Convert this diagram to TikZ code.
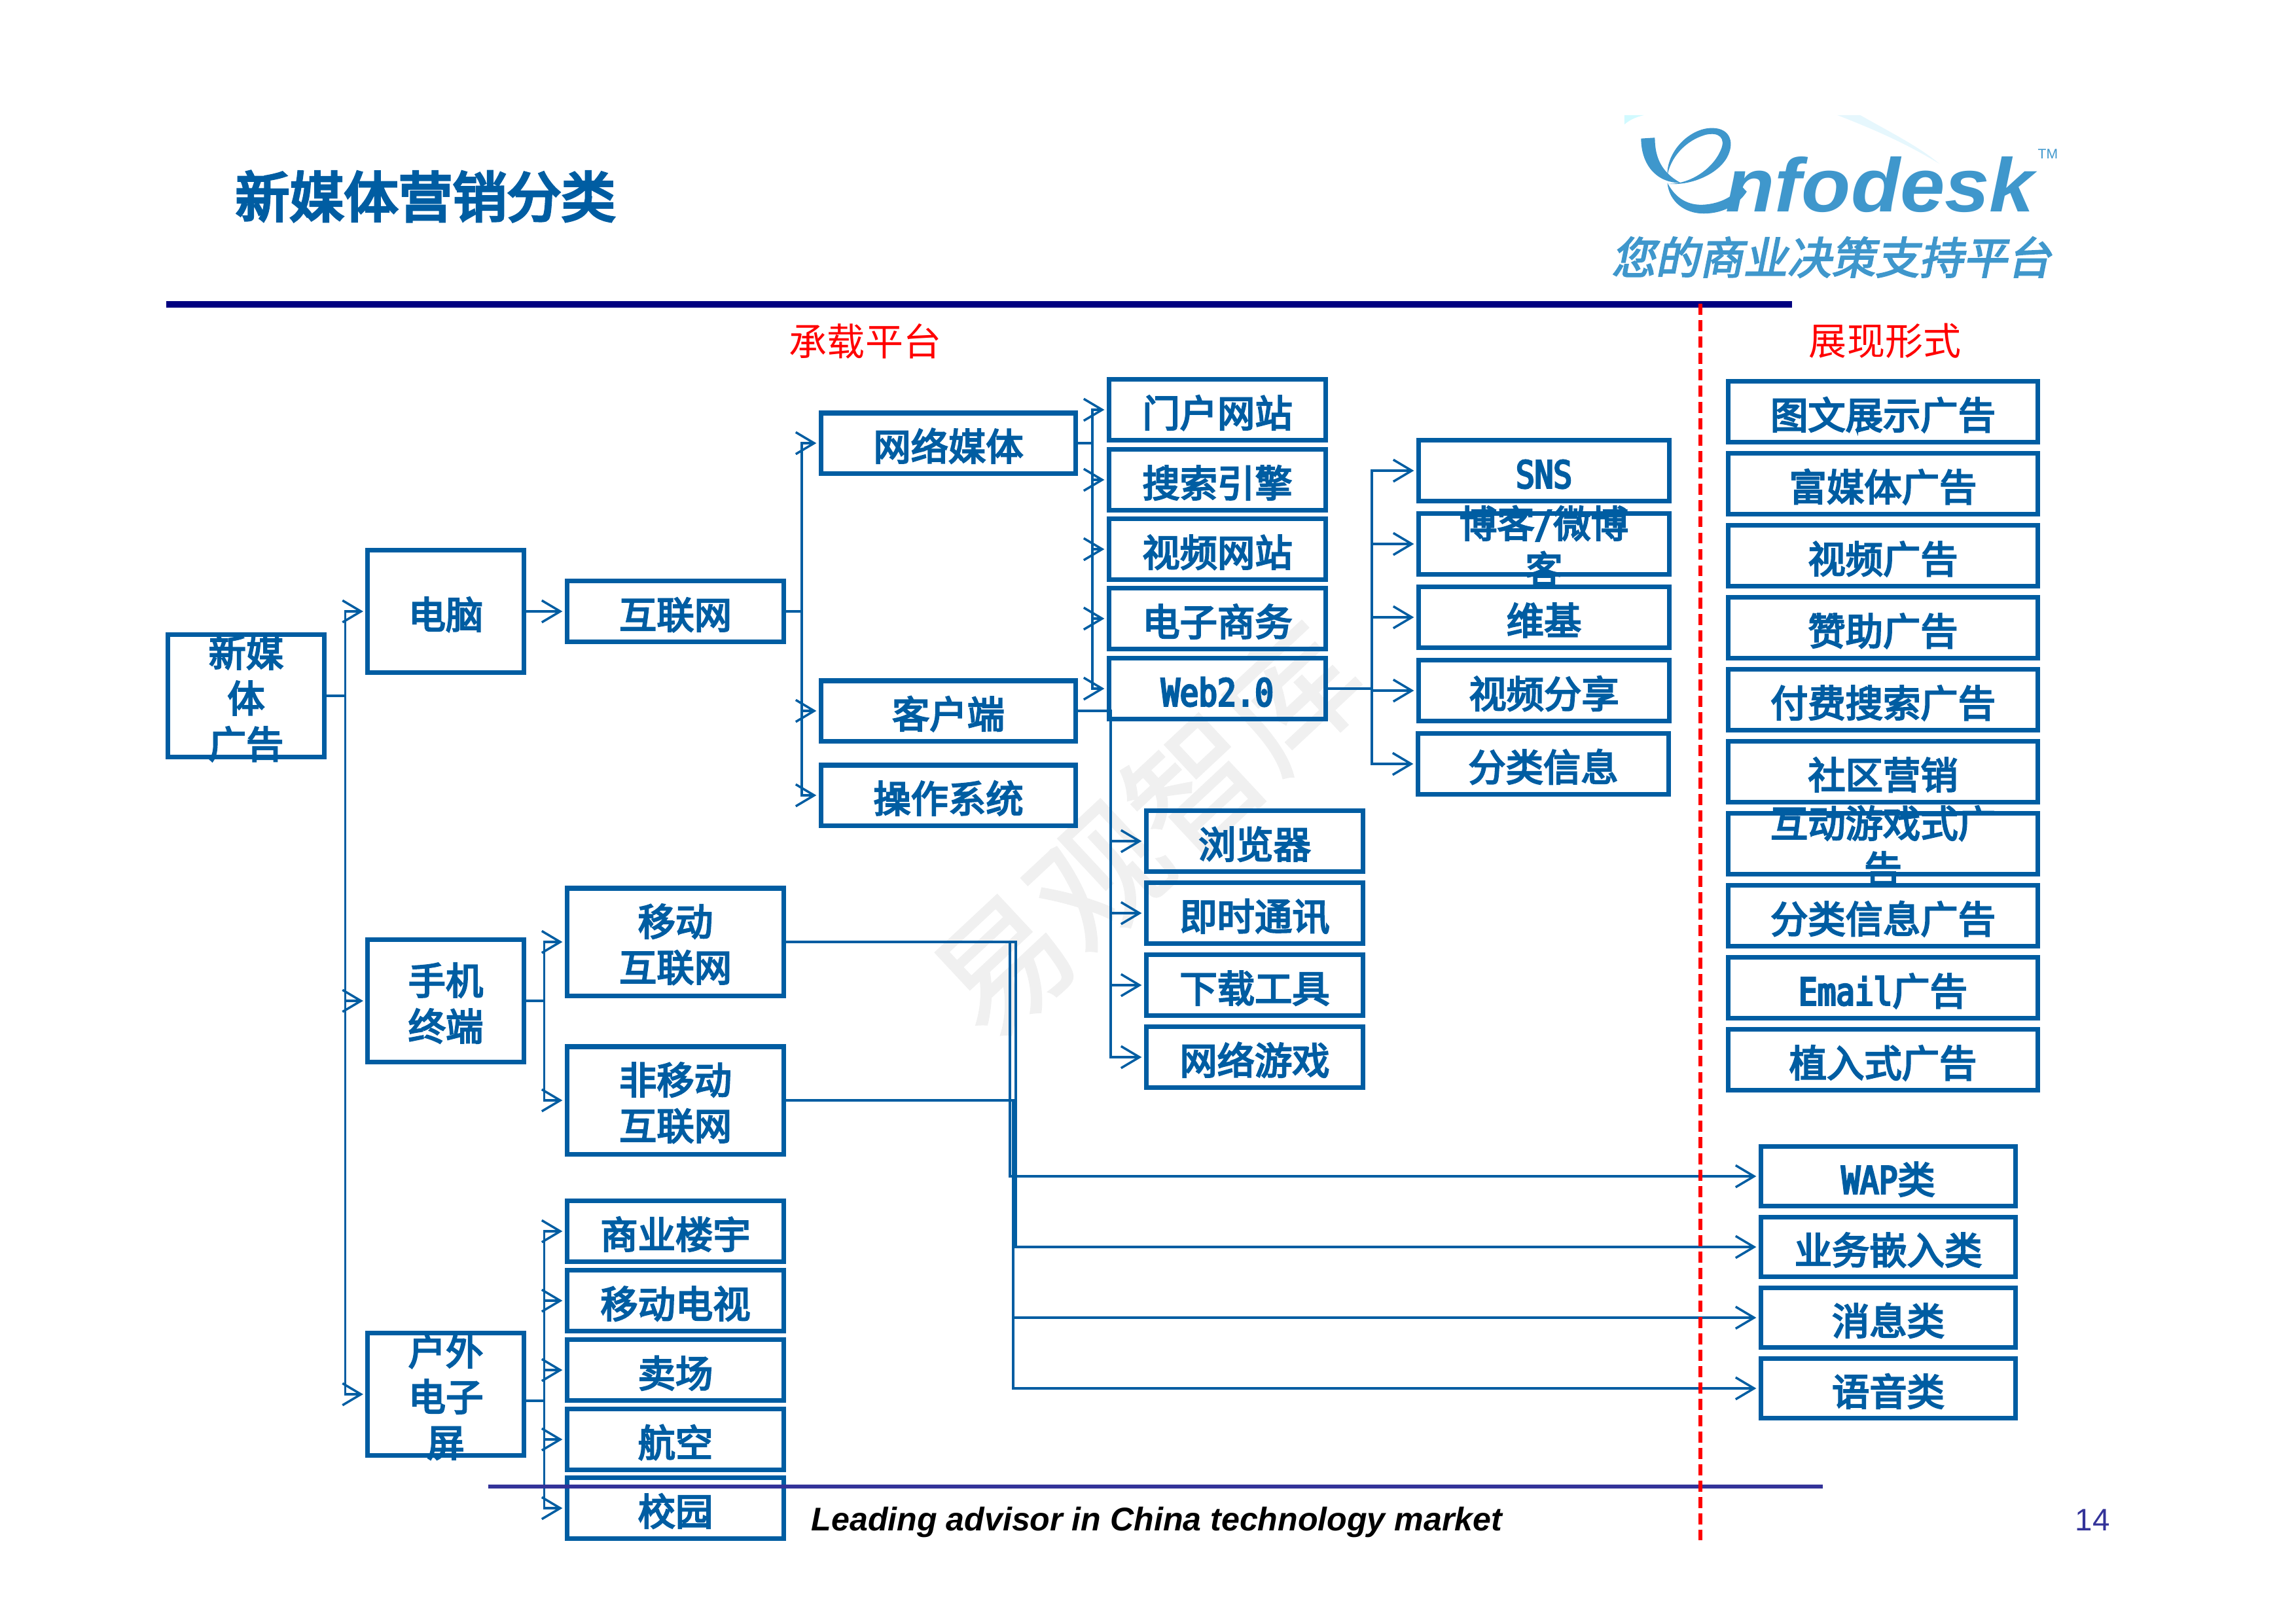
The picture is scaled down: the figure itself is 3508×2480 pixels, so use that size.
\documentclass[tikz,border=0pt]{standalone}
\usepackage{fontspec}
\usetikzlibrary{arrows.meta}
\setmainfont{Liberation Sans}
\newfontfamily\cjk{Noto Sans CJK SC}
\newfontfamily\cjkmark[FakeBold=1.5]{Noto Sans CJK SC}
\newfontfamily\cjkbold[FakeBold=4]{Noto Sans CJK SC}
\newfontfamily\cjkwide[FakeBold=5]{Noto Sans CJK SC}
\newfontfamily\slantcjk[FakeSlant=0.2,FakeBold=3]{Noto Sans CJK SC}
\newfontfamily\halfw[FakeStretch=0.83,FakeBold=5]{DejaVu Sans Mono}
\newfontfamily\logofont[FakeStretch=1.06]{Liberation Sans}
\definecolor{boxblue}{HTML}{005DA2}
\definecolor{logoblue}{HTML}{3F97CC}
\definecolor{barnavy}{HTML}{000080}
\definecolor{footpurple}{HTML}{333399}
% keeps a text of several lines from growing its box
\newcommand{\stacked}[1]{\raisebox{4.3pt}{\vbox to 0pt{\vss\hbox{\begin{tabular}{@{}c@{}}#1\end{tabular}}\vss}}}
\tikzset{
  itembox/.style={draw=boxblue,line width=2pt,text=boxblue,inner sep=0pt,text height=15pt,text depth=0pt,
    font=\cjkbold\fontsize{16.3}{19.9}\selectfont},
  rootbox/.style={itembox,minimum width=2.38cm,minimum height=1.87cm},
  midbox/.style={itembox,minimum width=3.31cm,minimum height=0.93cm},
  tallbox/.style={itembox,minimum width=3.31cm,minimum height=1.64cm},
  netbox/.style={itembox,minimum width=3.89cm,minimum height=0.92cm},
  socialbox/.style={itembox,minimum width=3.83cm,minimum height=0.93cm},
  formbox/.style={itembox,minimum width=4.72cm,minimum height=0.93cm},
  typebox/.style={itembox,minimum width=3.89cm,minimum height=0.91cm},
  link/.style={draw=boxblue,line width=1pt,shorten >=1pt,
    -{Straight Barb[length=8pt,width=9.5pt,line width=1pt]}},
  headlabel/.style={text=red,inner sep=0pt,font=\cjk\fontsize{16.5}{19.9}\selectfont},
}
\begin{document}
\begin{tikzpicture}[x=0.01cm,y=-0.01cm]
  \useasboundingbox (0,0) rectangle (3508,2480);
  % watermark
  \node[rotate=43,text=black!6,inner sep=0pt,font=\cjkmark\fontsize{57}{60}\selectfont] (mark) at (1752,1268) {易观智库};
  % header
  \node[inner sep=0pt,text=boxblue,font=\cjkwide\fontsize{23.6}{26}\selectfont] (title) at (650,300) {新媒体营销分类};
  \begin{scope}[shift={(2300,130)},xscale=0.638,yscale=0.446]
    \fill[blue!10!cyan!18] (285,103) -- (332,103) .. controls (310,110) and (295,122) .. (285,135) -- cycle;
    \fill[cyan!10] (795,103) -- (850,103) .. controls (920,160) and (990,210) .. (1040,270) .. controls (960,200) and (880,150) .. (795,103) -- cycle;
    \fill[logoblue] (325,183) -- (358,180) .. controls (358,250) and (375,300) .. (420,335) .. controls (360,335) and (325,270) .. (325,183) -- cycle;
    \fill[logoblue] (388,310) .. controls (385,230) and (440,147) .. (495,147) .. controls (540,147) and (550,200) .. (530,250) .. controls (505,310) and (440,345) .. (390,338)
      .. controls (440,340) and (495,290) .. (515,225) .. controls (530,180) and (510,160) .. (480,170) .. controls (430,190) and (395,250) .. (388,310) -- cycle;
    \fill[logoblue] (388,335) .. controls (392,400) and (430,440) .. (475,440) .. controls (525,440) and (560,405) .. (578,365) -- (565,345) .. controls (545,385) and (510,408) .. (470,410) .. controls (430,410) and (405,380) .. (388,335) -- cycle;
  \end{scope}
  \node[anchor=base west,inner sep=0pt,text=logoblue,font=\logofont\bfseries\itshape\fontsize{33}{36}\selectfont] (brand) at (2636,323) {nfodesk};
  \node[anchor=base west,inner sep=0pt,text=logoblue,font=\fontsize{6}{7}\selectfont] (tm) at (3113,242) {TM};
  \node[inner sep=0pt,text=logoblue,font=\slantcjk\fontsize{19.1}{22}\selectfont] (slogan) at (2798,393) {您的商业决策支持平台};
  \node[headlabel] (carrier) at (1322,521) {承载平台};
  \node[headlabel] (forms) at (2880,521) {展现形式};
  % left side
  \node[rootbox] (root) at (376,1063) {\stacked{新媒\\体\\广告}};
  \node[rootbox] (pc) at (681,934) {电脑};
  \node[rootbox] (phone) at (681,1529) {\stacked{手机\\终端}};
  \node[rootbox] (screen) at (681,2130) {\stacked{户外\\电子\\屏}};
  \node[midbox] (web) at (1032,934) {互联网};
  \node[tallbox] (mobile) at (1032,1439) {\stacked{移动\\互联网}};
  \node[tallbox] (nonmobile) at (1032,1681) {\stacked{非移动\\互联网}};
  \node[midbox] (office) at (1032,1881) {商业楼宇};
  \node[midbox] (tv) at (1032,1987) {移动电视};
  \node[midbox] (mall) at (1032,2093) {卖场};
  \node[midbox] (air) at (1032,2199) {航空};
  \node[midbox] (campus) at (1032,2304) {校园};
  % platforms
  \node[netbox] (media) at (1449,677) {网络媒体};
  \node[netbox] (client) at (1449,1086) {客户端};
  \node[netbox] (os) at (1449,1215) {操作系统};
  \node[midbox] (portal) at (1860,626) {门户网站};
  \node[midbox] (search) at (1860,733) {搜索引擎};
  \node[midbox] (video) at (1860,839) {视频网站};
  \node[midbox] (shop) at (1860,945) {电子商务};
  \node[midbox] (webtwo) at (1860,1052) {{\halfw Web2.0}};
  \node[midbox] (browser) at (1917,1285) {浏览器};
  \node[midbox] (im) at (1917,1395) {即时通讯};
  \node[midbox] (download) at (1917,1505) {下载工具};
  \node[midbox] (game) at (1917,1615) {网络游戏};
  \node[socialbox] (sns) at (2359,719) {{\halfw SNS}};
  \node[socialbox] (blog) at (2359,831) {\stacked{博客{\halfw /}微博\\客}};
  \node[socialbox] (wiki) at (2359,943) {维基};
  \node[socialbox] (share) at (2359,1055) {视频分享};
  \node[socialbox] (info) at (2358,1167) {分类信息};
  % right side
  \node[formbox] (banner) at (2877,629) {图文展示广告};
  \node[formbox] (rich) at (2877,739) {富媒体广告};
  \node[formbox] (videoad) at (2877,849) {视频广告};
  \node[formbox] (sponsor) at (2877,959) {赞助广告};
  \node[formbox] (paid) at (2877,1069) {付费搜索广告};
  \node[formbox] (community) at (2877,1179) {社区营销};
  \node[formbox] (playad) at (2877,1289) {\stacked{互动游戏式广\\告}};
  \node[formbox] (infoad) at (2877,1399) {分类信息广告};
  \node[formbox] (mail) at (2877,1509) {{\halfw Email}广告};
  \node[formbox] (placed) at (2877,1619) {植入式广告};
  \node[typebox] (wap) at (2885,1797) {{\halfw WAP}类};
  \node[typebox] (embed) at (2885,1905) {业务嵌入类};
  \node[typebox] (msg) at (2885,2013) {消息类};
  \node[typebox] (voice) at (2885,2121) {语音类};
  % connectors
  \draw[link] (root.east) -- ++(29,0) |- (pc.west);
  \draw[link] (root.east) -- ++(29,0) |- (phone.west);
  \draw[link] (root.east) -- ++(29,0) |- (screen.west);
  \draw[link] (pc.east) -- (web.west);
  \draw[link] (phone.east) -- ++(28,0) |- (mobile.west);
  \draw[link] (phone.east) -- ++(28,0) |- (nonmobile.west);
  \draw[link] (screen.east) ++(0,10) -- ++(28,0) |- (office.west);
  \draw[link] (screen.east) ++(0,10) -- ++(28,0) |- (tv.west);
  \draw[link] (screen.east) ++(0,10) -- ++(28,0) |- (mall.west);
  \draw[link] (screen.east) ++(0,10) -- ++(28,0) |- (air.west);
  \draw[link] (screen.east) ++(0,10) -- ++(28,0) |- (campus.west);
  \draw[link] (web.east) -- ++(24,0) |- (media.west);
  \draw[link] (web.east) -- ++(24,0) |- (client.west);
  \draw[link] (web.east) -- ++(24,0) |- (os.west);
  \draw[link] (media.east) -- ++(22,0) |- (portal.west);
  \draw[link] (media.east) -- ++(22,0) |- (search.west);
  \draw[link] (media.east) -- ++(22,0) |- (video.west);
  \draw[link] (media.east) -- ++(22,0) |- (shop.west);
  \draw[link] (media.east) -- ++(22,0) |- (webtwo.west);
  \draw[link] (client.east) -- ++(50,0) |- (browser.west);
  \draw[link] (client.east) -- ++(50,0) |- (im.west);
  \draw[link] (client.east) -- ++(50,0) |- (download.west);
  \draw[link] (client.east) -- ++(50,0) |- (game.west);
  \draw[link] (webtwo.east) -- ++(67,0) |- (sns.west);
  \draw[link] (webtwo.east) -- ++(67,0) |- (blog.west);
  \draw[link] (webtwo.east) -- ++(67,0) |- (wiki.west);
  \draw[link] (webtwo.east) -- ++(67,0) |- (share.west);
  \draw[link] (webtwo.east) -- ++(67,0) |- (info.west);
  \draw[link] (mobile.east) -- ++(342,0) |- (wap.west);
  \draw[link] (mobile.east) -- ++(351,0) |- (embed.west);
  \draw[link] (nonmobile.east) -- ++(347,0) |- (msg.west);
  \draw[link] (nonmobile.east) -- ++(347,0) |- (voice.west);
  % rules and footer
  \draw[barnavy,line width=2.9pt] (254,465) -- (2738,465);
  \draw[footpurple,line width=1.6pt] (746,2271) -- (2785,2271);
  \draw[red,line width=1.6pt,dash pattern=on 4.8pt off 2.3pt] (2598,464) -- (2598,2353);
  \node[anchor=west,inner sep=0pt,text=black,font=\bfseries\itshape\fontsize{14.25}{16}\selectfont] (foot) at (1239,2326) {Leading advisor in China technology market};
  \node[inner sep=0pt,text=footpurple,font=\fontsize{13.5}{15}\selectfont] (page) at (3197,2322) {14};
\end{tikzpicture}
\end{document}
